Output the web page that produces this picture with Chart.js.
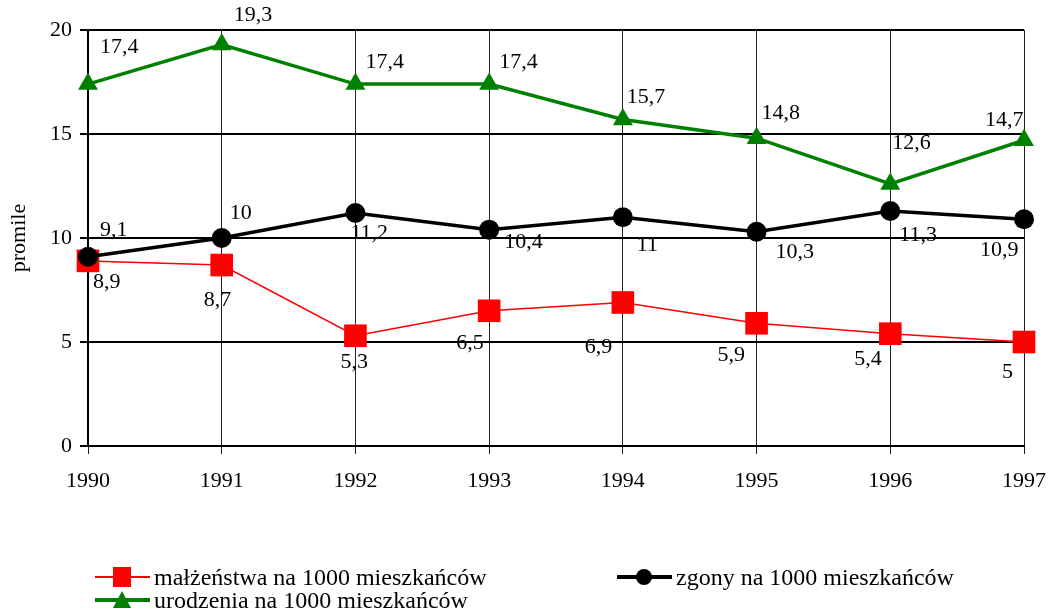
<!DOCTYPE html>
<html>
<head>
<meta charset="utf-8">
<script src="https://cdn.jsdelivr.net/npm/chart.js@4"></script>
<style>
    html, body { margin: 0; padding: 0; background: #fff; }
    #wrap { position: relative; width: 1054px; height: 615px; }
    #legend { position: absolute; left: 0; top: 0; width: 1054px; height: 615px; pointer-events: none;
        font-family: "Liberation Serif", "Times New Roman", serif; font-size: 24px; color: #000; }
    .item { position: absolute; display: flex; align-items: center; height: 24px; white-space: nowrap; }
    .item svg { margin-right: 4px; }
</style>
</head>
<body>
<div id="wrap">
    <canvas id="chart" width="1054" height="615"></canvas>
    <div id="legend"></div>
</div>
<script>
// lata i wartości w promilach
const years = ['1990', '1991', '1992', '1993', '1994', '1995', '1996', '1997'];
const malzenstwa = [8.9, 8.7, 5.3, 6.5, 6.9, 5.9, 5.4, 5.0];
const zgony = [9.1, 10.0, 11.2, 10.4, 11.0, 10.3, 11.3, 10.9];
const urodzenia = [17.4, 19.3, 17.4, 17.4, 15.7, 14.8, 12.6, 14.7];
const labelsMalzenstwa = ['8,9', '8,7', '5,3', '6,5', '6,9', '5,9', '5,4', '5'];
const labelsZgony = ['9,1', '10', '11,2', '10,4', '11', '10,3', '11,3', '10,9'];
const labelsUrodzenia = ['17,4', '19,3', '17,4', '17,4', '15,7', '14,8', '12,6', '14,7'];
const yTicks = [0, 5, 10, 15, 20];

// przesunięcia etykiet względem punktów (px)
const offMalzenstwa = [[5, 21], [-18, 35], [-15, 26], [-33, 32], [-38, 45], [-39, 32], [-36, 26], [-22, 30]];
const offZgony = [[12, -27], [8, -25], [-5, 20], [15, 13], [14, 28], [19, 20], [9, 24], [-44, 31]];
const offUrodzenia = [[12, -37], [12, -29], [10, -22], [10, -22], [4, -22], [5, -25], [2, -41], [-39, -20]];

const FONT = '"Liberation Serif", "Times New Roman", serif';

const valueLabels = {
    id: 'valueLabels',
    afterDatasetsDraw(chart) {
        const ctx = chart.ctx;
        ctx.save();
        ctx.font = '22px ' + FONT;
        ctx.fillStyle = '#000';
        ctx.textAlign = 'left';
        ctx.textBaseline = 'middle';
        chart.data.datasets.forEach((ds, i) => {
            const meta = chart.getDatasetMeta(i);
            meta.data.forEach((pt, j) => {
                const o = ds.labelOffsets[j];
                ctx.fillText(ds.valueText[j], pt.x + o[0], pt.y + o[1]);
            });
        });
        ctx.restore();
    }
};

const chart = new Chart(document.getElementById('chart'), {
    type: 'line',
    data: {
        labels: years,
        datasets: [
            {
                label: 'małżeństwa na 1000 mieszkańców',
                data: malzenstwa,
                valueText: labelsMalzenstwa,
                labelOffsets: offMalzenstwa,
                borderColor: '#ff0000',
                backgroundColor: '#ff0000',
                borderWidth: 1.5,
                pointStyle: 'rect',
                pointRadius: 16,
                pointBorderWidth: 0,
                order: 3
            },
            {
                label: 'zgony na 1000 mieszkańców',
                data: zgony,
                valueText: labelsZgony,
                labelOffsets: offZgony,
                borderColor: '#000000',
                backgroundColor: '#000000',
                borderWidth: 3.5,
                pointStyle: 'circle',
                pointRadius: 10,
                pointBorderWidth: 0,
                order: 2
            },
            {
                label: 'urodzenia na 1000 mieszkańców',
                data: urodzenia,
                valueText: labelsUrodzenia,
                labelOffsets: offUrodzenia,
                borderColor: '#008000',
                backgroundColor: '#008000',
                borderWidth: 3.5,
                pointStyle: 'triangle',
                pointRadius: 11.5,
                pointBorderWidth: 0,
                order: 1
            }
        ]
    },
    options: {
        responsive: false,
        animation: false,
        layout: { padding: { left: 0, right: 30, top: 30, bottom: 119 } },
        plugins: {
            legend: { display: false },
            tooltip: { enabled: false }
        },
        scales: {
            x: {
                offset: false,
                grid: { color: '#222', lineWidth: 1, tickLength: 8 },
                border: { color: '#000', width: 2 },
                ticks: { color: '#000', font: { family: FONT, size: 22 }, padding: 14, maxRotation: 0 },
                afterFit(scale) {
                    scale.height = 50;
                    scale.paddingLeft = 0;
                    scale.paddingRight = 0;
                }
            },
            y: {
                min: 0,
                max: 20,
                afterBuildTicks(scale) { scale.ticks = yTicks.map(v => ({ value: v })); },
                grid: { color: '#000', lineWidth: 2, tickLength: 8 },
                border: { color: '#000', width: 2 },
                ticks: { color: '#000', font: { family: FONT, size: 22 }, padding: 8 },
                title: {
                    display: true,
                    text: 'promile',
                    color: '#000',
                    font: { family: FONT, size: 22 },
                    padding: { top: 6, bottom: 0 }
                },
                afterFit(scale) {
                    scale.width = 88;
                    scale.paddingTop = 0;
                    scale.paddingBottom = 0;
                }
            }
        }
    },
    plugins: [valueLabels]
});

// legenda w HTML
const legendItems = [
    { text: chart.data.datasets[0].label, color: '#ff0000', lw: 2, marker: 'rect', left: 95, top: 565 },
    { text: chart.data.datasets[1].label, color: '#000000', lw: 4, marker: 'circle', left: 617, top: 565 },
    { text: chart.data.datasets[2].label, color: '#008000', lw: 4, marker: 'triangle', left: 95, top: 588 }
];

function symbol(it) {
    let m = '';
    if (it.marker === 'rect') m = '<rect x="18" y="2" width="18" height="20" fill="' + it.color + '"/>';
    if (it.marker === 'circle') m = '<circle cx="27" cy="12" r="8" fill="' + it.color + '"/>';
    if (it.marker === 'triangle') m = '<polygon points="27,3 36,20 18,20" fill="' + it.color + '"/>';
    return '<svg width="55" height="24"><line x1="0" y1="12" x2="55" y2="12" stroke="' + it.color +
        '" stroke-width="' + it.lw + '"/>' + m + '</svg>';
}

document.getElementById('legend').innerHTML = legendItems.map(it =>
    `<div class="item" style="left:${it.left}px;top:${it.top}px">${symbol(it)}<span>${it.text}</span></div>`
).join('');
</script>
</body>
</html>
